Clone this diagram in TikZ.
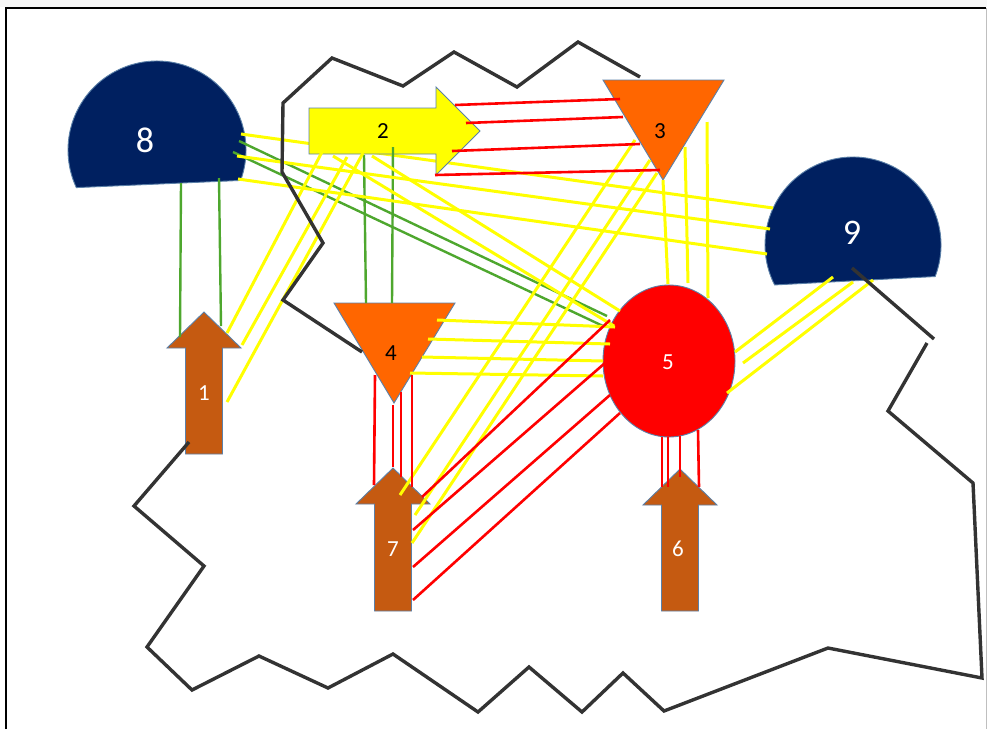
\documentclass[tikz,border=0pt]{standalone}
\usepackage{fontspec}
\setmainfont{Carlito}
\usetikzlibrary{calc}
\definecolor{navy}{HTML}{002060}
\definecolor{orng}{HTML}{FF6600}
\definecolor{rust}{HTML}{C55A11}
\definecolor{edge}{HTML}{5B80A8}
\definecolor{lgrn}{HTML}{4EA72E}
\definecolor{ylw}{HTML}{FFFF00}
\definecolor{rim}{HTML}{333333}
\tikzset{
  shp/.style={draw=edge, line width=0.9pt},
  blob/.style={shp, fill=navy},
  tri/.style={shp, fill=orng},
  barr/.style={shp, fill=rust},
  num/.style={font=\fontsize{23pt}{23pt}\selectfont, inner sep=0pt},
  big/.style={font=\fontsize{36pt}{36pt}\selectfont, inner sep=0pt, text=white},
  yl/.style={draw=ylw, line width=3pt},
  rl/.style={draw=red, line width=2.6pt},
  gl/.style={draw=lgrn, line width=2.4pt},
  bl/.style={draw=rim, line width=3.4pt}
}

\begin{document}
\begin{tikzpicture}[x=1pt,y=-1pt]
\useasboundingbox (0,0) rectangle (987,729);
\fill[gray!6] (0,0) rectangle (987,7);
\draw[line width=1.4pt] (6,729) -- (6,8) -- (986,8);
\draw[gray!50, line width=0.6pt] (986,8) -- (986,729);

% half discs
\coordinate (c8) at (157,150);
\coordinate (c9) at (853,245);
\draw[blob] ($(c8)+(-20:89pt)$) arc[start angle=-20, end angle=205, radius=89pt] -- cycle;
\draw[blob] ($(c9)+(-21:88pt)$) arc[start angle=-21, end angle=207, radius=88pt] -- cycle;
\node[big] (n8) at (145,140) {8};
\node[big] (n9) at (852,233) {9};

% runs behind 2
\draw[yl] (241,134) -- (773,208);

\draw[shp, fill=ylw] (309,108) -- (436,108) -- (436,87) -- (480,131) -- (436,175) -- (436,154) -- (309,154) -- cycle;
\node[num] (n2) at (383,131) {2};

\draw[tri] (603,80) -- (724,80) -- (663,180) -- cycle;
\node[num] (n3) at (660,131) {3};
\draw[tri] (334,303) -- (455,303) -- (394,403) -- cycle;
\node[num] (n4) at (391,353) {4};

\draw[shp, fill=red] (669,361) ellipse[x radius=66pt, y radius=76pt];
\node[num, text=white] (n5) at (668,362) {5};

\foreach \ax/\ty/\by in {204/312/454, 680/469/611, 393/468/611}
  \draw[barr] (\ax,\ty) -- ({\ax+37},{\ty+36}) -- ({\ax+18.5},{\ty+36}) -- ({\ax+18.5},\by)
    -- ({\ax-18.5},\by) -- ({\ax-18.5},{\ty+36}) -- ({\ax-37},{\ty+36}) -- cycle;
\node[num, text=white] (n1) at (204,393) {1};
\node[num, text=white] (n6) at (678,549) {6};
\node[num, text=white] (n7) at (393,549) {7};

% green
\foreach \a/\b in {{181,183}/{180,337}, {219,178}/{221,326}, {239,141}/{607,316},
    {233,152}/{603,326}, {364,155}/{366,303}, {393,147}/{392,303}}
  \draw[gl] (\a) -- (\b);

% yellow
\foreach \a/\b in {{237,156}/{770,229}, {238,179}/{767,254},
    {322,152}/{227,333}, {347,157}/{242,345}, {363,153}/{227,402},
    {333,156}/{614,326}, {372,156}/{620,311},
    {437,320}/{615,327}, {428,339}/{610,344}, {422,357}/{603,361}, {410,373}/{603,376},
    {635,140}/{400,495}, {650,160}/{415,515}, {657,173}/{412,543},
    {663,180}/{668,284}, {685,147}/{688,283}, {707,122}/{708,298},
    {833,277}/{735,352}, {853,282}/{743,363}, {873,280}/{727,393}}
  \draw[yl] (\a) -- (\b);

% red
\foreach \a/\b in {{455,105}/{620,99}, {466,123}/{623,117}, {452,151}/{640,144}, {435,175}/{660,170},
    {375,375}/{374,485}, {393,405}/{393,467}, {401,392}/{401,477}, {412,375}/{412,487},
    {610,320}/{422,497}, {605,363}/{413,530}, {610,395}/{413,567}, {620,413}/{413,600},
    {662,437}/{662,487}, {668,437}/{668,487}, {680,436}/{680,477}, {698,430}/{699,487}}
  \draw[rl] (\a) -- (\b);

% outline
\draw[bl] (362,352) -- (283,300) -- (323,243) -- (282,172) -- (283,103) -- (332,58) -- (403,86)
  -- (454,52) -- (517,87) -- (578,42) -- (640,77);
\draw[bl] (852,268) -- (934,339);
\draw[bl] (927,343) -- (888,411) -- (973,483) -- (982,678) -- (828,648) -- (664,711) -- (623,673)
  -- (582,712) -- (529,667) -- (478,712) -- (393,654) -- (328,688) -- (259,656) -- (192,690)
  -- (147,647) -- (204,566) -- (134,506) -- (189,442);
\end{tikzpicture}
\end{document}
